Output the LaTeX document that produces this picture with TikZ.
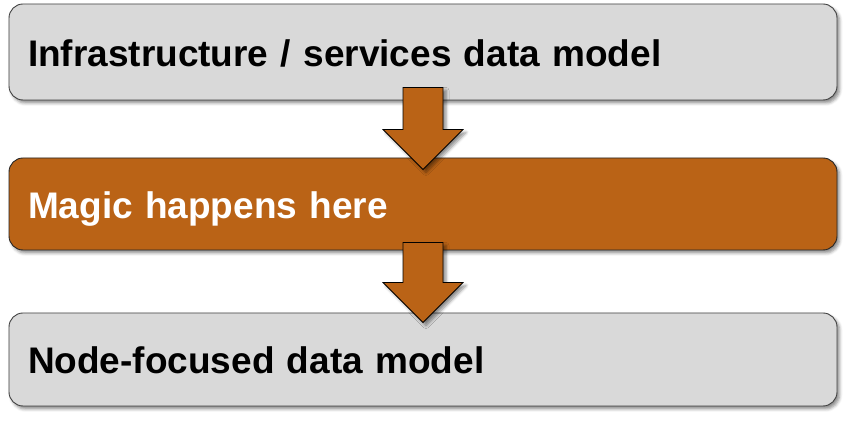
\documentclass[tikz,border=0pt]{standalone}
\usepackage{fontspec}
\setmainfont{Liberation Sans}
\usetikzlibrary{calc, shadows.blur}

\definecolor{magicorange}{RGB}{186,99,22}
\definecolor{boxgray}{RGB}{217,217,217}

\begin{document}
\begin{tikzpicture}[x = 1pt, y = 1pt,
	layer/.style = {rounded corners = 14pt, minimum width = 828pt, text width = 790pt, inner xsep = 19pt, align = left, text height = 29pt, text depth = 0pt, font = \fontsize{37}{44}\selectfont\bfseries, line width = 0.9pt, blur shadow = {shadow xshift = 2.5pt, shadow yshift = -3pt, shadow blur radius = 3pt, shadow opacity = 45}},
	plain/.style = {layer, fill = boxgray, draw = black!75},
	magic/.style = {layer, fill = magicorange, draw = black!85, text = white},
	blockarrow/.style = {fill = magicorange, draw = black, line width = 0.8pt, line join = miter, blur shadow = {shadow xshift = 3pt, shadow yshift = -3pt, shadow blur radius = 3pt, shadow opacity = 45}}]

	\useasboundingbox (0, 0) rectangle (852, 422);

	% Layers
	
	\node [plain, minimum height = 96pt] (infra) at (423, 370) {Infrastructure / services data model};
	\node [magic, minimum height = 92pt] (magic) at (423, 218) {Magic happens here};
	\node [plain, minimum height = 93pt] (nodemodel) at (423, 62.5) {Node-focused data model};
	
	% Arrows
	
	\coordinate (top1) at ($(infra.south) + (0, 13)$);
	\coordinate (tip1) at ($(magic.north) + (0, -12)$);
	\draw [blockarrow] ($(top1) + (-20, 0)$) -- ++ (40, 0) -- ($(tip1) + (20, 40)$) -- ++ (20, 0) -- (tip1) -- ++ (-40, 40) -- ++ (20, 0) -- cycle;
	
	\coordinate (top2) at ($(magic.south) + (0, 8)$);
	\coordinate (tip2) at ($(nodemodel.north) + (0, -10)$);
	\draw [blockarrow] ($(top2) + (-20, 0)$) -- ++ (40, 0) -- ($(tip2) + (20, 40)$) -- ++ (20, 0) -- (tip2) -- ++ (-40, 40) -- ++ (20, 0) -- cycle;

\end{tikzpicture}
\end{document}
